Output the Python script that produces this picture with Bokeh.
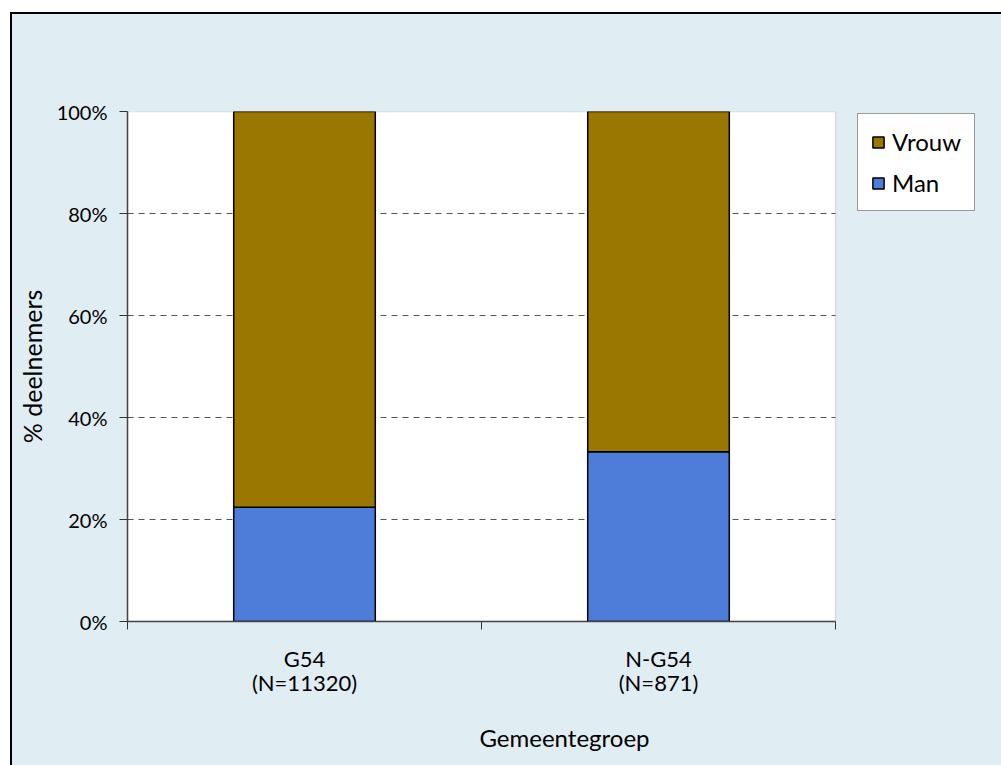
from bokeh.plotting import figure
from bokeh.models import (FixedTicker, NumeralTickFormatter, Legend, LegendItem,
                          ColumnDataSource, Range1d, BoxAnnotation)
from bokeh.embed import file_html
from bokeh.resources import INLINE

# ---- data ----
categories = ["G54", "N-G54"]
n_labels = ["(N=11320)", "(N=871)"]
man = [0.224, 0.333]
vrouw = [0.776, 0.667]
y_ticks = [0, 0.2, 0.4, 0.6, 0.8, 1.0]

FONT = "Lato"
BG = "#E0EDF2"
MAN_COLOR = "#4D7DD9"
VROUW_COLOR = "#997700"

W, H = 1001, 765
LEFT, TOP, BOTTOM = 127, 111, 144
PLOT_W = 708  # pixel width of the category area
ncat = len(categories)
x_end = ncat * (W - LEFT) / PLOT_W  # frame extends right to hold the legend

xs = [i + 0.5 for i in range(ncat)]
src = ColumnDataSource(dict(x=xs, Man=man, Vrouw=vrouw))

p = figure(width=W, height=H, output_backend="svg", toolbar_location=None,
           x_range=Range1d(0, x_end), y_range=Range1d(0, 1),
           min_border_left=LEFT, min_border_top=TOP, min_border_right=0,
           min_border_bottom=BOTTOM)
p.background_fill_alpha = 0
p.border_fill_color = BG
p.border_fill_alpha = 0
p.styles = {"background-color": BG,
            "box-shadow": "inset 10px 12px 0 0 white, inset 12px 14px 0 0 black"}
p.outline_line_color = None

# white plot area with grey border
p.add_layout(BoxAnnotation(left=0, right=ncat, bottom=0, top=1,
                           fill_color="white", fill_alpha=1,
                           line_color="#9A9A9A", line_width=1.5, level="image"))

# dashed gridlines across the plot area
grid_y = [t for t in y_ticks if 0 < t < 1]
p.segment(x0=[0] * len(grid_y), x1=[ncat] * len(grid_y), y0=grid_y, y1=grid_y,
          line_color="#555555", line_dash="6 5", line_width=1, level="underlay")

renderers = p.vbar_stack(["Man", "Vrouw"], x="x", width=0.4, source=src,
                         fill_color=[MAN_COLOR, VROUW_COLOR],
                         line_color="black", line_width=1.5)

# x axis: labels at centers, ticks at boundaries (minor ticks)
xa = p.xaxis[0]
xa.bounds = (0, ncat)
xa.ticker = FixedTicker(ticks=xs, minor_ticks=list(range(ncat + 1)))
xa.major_label_overrides = {x: f"{c}\n{n}" for x, c, n in zip(xs, categories, n_labels)}
xa.major_tick_out = 0
xa.major_tick_in = 0
xa.minor_tick_out = 8
xa.minor_tick_in = 0
xa.minor_tick_line_color = "#333333"
xa.minor_tick_line_width = 1
xa.axis_line_color = "#444444"
xa.axis_line_width = 1.5
xa.major_label_standoff = 15
xa.major_label_text_font = FONT
xa.major_label_text_font_size = "22px"
xa.major_label_text_color = "black"
xa.major_label_text_line_height = 0.92
xa.axis_label = "Gemeentegroep"
xa.axis_label_text_font = FONT
xa.axis_label_text_font_size = "24px"
xa.axis_label_text_font_style = "normal"
xa.axis_label_text_color = "black"
xa.axis_label_standoff = 24

ya = p.yaxis[0]
ya.ticker = FixedTicker(ticks=y_ticks)
ya.formatter = NumeralTickFormatter(format="0%")
ya.major_tick_out = 8
ya.major_tick_in = 0
ya.minor_tick_line_color = None
ya.major_tick_line_color = "#333333"
ya.axis_line_color = "#444444"
ya.axis_line_width = 1.5
ya.major_label_standoff = 12
ya.major_label_text_font = FONT
ya.major_label_text_font_size = "20px"
ya.major_label_text_color = "black"
ya.axis_label = "% deelnemers"
ya.axis_label_text_font = FONT
ya.axis_label_text_font_size = "25px"
ya.axis_label_text_font_style = "normal"
ya.axis_label_text_color = "black"
ya.axis_label_standoff = 7

p.xgrid.visible = False
p.ygrid.visible = False

legend = Legend(items=[LegendItem(label="Vrouw", renderers=[renderers[1]]),
                       LegendItem(label="Man", renderers=[renderers[0]])],
                location=(730, 410))
legend.border_line_color = "#333333"
legend.border_line_width = 1
legend.background_fill_color = "white"
legend.background_fill_alpha = 1
legend.label_text_font = FONT
legend.label_text_font_size = "24px"
legend.label_text_color = "black"
legend.glyph_width = 14
legend.glyph_height = 14
legend.label_height = 20
legend.spacing = 12
legend.padding = 13
legend.label_standoff = 7
legend.margin = 0
p.add_layout(legend, "center")

open("out.html", "w").write(file_html(p, INLINE))
